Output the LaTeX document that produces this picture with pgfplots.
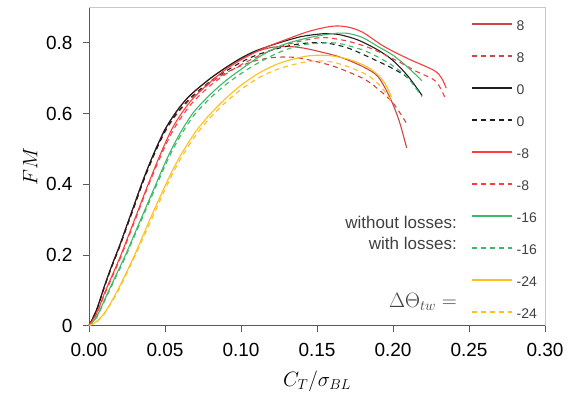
\documentclass[border=0pt]{standalone}
\usepackage{pgfplots}
\pgfplotsset{compat=1.18}
\usepackage{fontspec}
\setmainfont{Liberation Sans}
\definecolor{cEight}{RGB}{205,70,70}
\definecolor{cZero}{RGB}{30,30,30}
\definecolor{cMEight}{RGB}{255,60,60}
\definecolor{cSixteen}{RGB}{60,185,105}
\definecolor{cTwentyFour}{RGB}{255,192,30}
\definecolor{axdark}{RGB}{90,90,90}
\definecolor{axlight}{RGB}{200,200,200}
\definecolor{legtext}{RGB}{64,64,64}
\begin{document}
\begin{tikzpicture}[x=1pt,y=1pt]
\path[use as bounding box] (-89,-69.3) rectangle (486,325.7);
\begin{axis}[
  at={(0,0)}, anchor=south west,
  scale only axis, width=456pt, height=318.2pt,
  xmin=0, xmax=0.3, ymin=0, ymax=0.9,
  axis x line*=bottom, axis y line*=left,
  axis line style={axdark, line width=0.8pt},
  tick align=outside, major tick length=6pt,
  tick style={axdark, line width=0.8pt},
  xtick={0,0.05,0.1,0.15,0.2,0.25,0.3},
  ytick={0,0.2,0.4,0.6,0.8},
  /pgf/number format/assume math mode=true,
  ticklabel style={font=\fontsize{19}{19}\selectfont},
  xticklabel style={yshift=-8pt, /pgf/number format/.cd, fixed, fixed zerofill, precision=2},
  yticklabel style={xshift=-7pt, /pgf/number format/.cd, fixed, precision=1},
  xlabel={$C_T/\sigma_{BL}$}, ylabel={$FM$},
  every axis x label/.style={at={(axis description cs:0.5,0)}, anchor=center, yshift=-56pt, font=\fontsize{20}{20}\selectfont},
  every axis y label/.style={at={(axis description cs:-0.129,0.5)}, rotate=90, anchor=center, font=\fontsize{20}{20}\selectfont},
  clip=false,
  legend cell align=left,
  legend image code/.code={\draw[#1, line width=1.5pt] (0pt,1pt) -- (40pt,1pt);},
  legend style={at={(rel axis cs:0.831,0.967)}, anchor=north west, draw=none, fill=none,
    font=\fontsize{14}{14}\selectfont, text=legtext, row sep=22pt,
    nodes={inner sep=0pt, text height=10pt, text depth=0pt},
    /tikz/every odd column/.append style={column sep=4pt}},
  every axis plot/.append style={line width=1.1pt, smooth},
]
\draw[axlight, line width=0.8pt] (rel axis cs:0,1) -- (rel axis cs:1,1) -- (rel axis cs:1,0);
% 8 without losses
\addplot[cEight] coordinates {(0,0) (0.005,0.045) (0.01,0.11) (0.015,0.17) (0.02,0.225) (0.025,0.285) (0.03,0.345) (0.035,0.405) (0.04,0.46) (0.045,0.51) (0.05,0.555) (0.055,0.59) (0.06,0.62) (0.065,0.645) (0.07,0.665) (0.08,0.70) (0.09,0.73) (0.1,0.755) (0.11,0.775) (0.12,0.787) (0.13,0.79) (0.14,0.786) (0.15,0.777) (0.165,0.76) (0.18,0.733) (0.19,0.705) (0.198,0.645) (0.204,0.58) (0.209,0.503)};
\addlegendentry{8}
% 8 with losses
\addplot[cEight, dash pattern=on 5pt off 4pt] coordinates {(0,0) (0.005,0.044) (0.01,0.108) (0.015,0.167) (0.02,0.222) (0.025,0.281) (0.03,0.34) (0.035,0.4) (0.04,0.455) (0.045,0.505) (0.05,0.548) (0.055,0.582) (0.06,0.61) (0.065,0.633) (0.07,0.653) (0.08,0.687) (0.09,0.715) (0.1,0.735) (0.11,0.75) (0.12,0.758) (0.13,0.76) (0.14,0.756) (0.16,0.735) (0.18,0.70) (0.19,0.67) (0.2,0.63) (0.209,0.572)};
\addlegendentry{8}
% 0 without losses
\addplot[cZero] coordinates {(0,0) (0.005,0.045) (0.01,0.11) (0.015,0.17) (0.02,0.225) (0.025,0.285) (0.03,0.345) (0.035,0.405) (0.04,0.46) (0.045,0.51) (0.05,0.555) (0.055,0.59) (0.06,0.62) (0.065,0.645) (0.07,0.665) (0.08,0.70) (0.09,0.73) (0.1,0.757) (0.11,0.778) (0.125,0.80) (0.14,0.818) (0.155,0.826) (0.165,0.823) (0.177,0.808) (0.19,0.78) (0.2,0.75) (0.21,0.705) (0.219,0.652)};
\addlegendentry{0}
% 0 with losses
\addplot[cZero, dash pattern=on 5pt off 4pt] coordinates {(0,0) (0.005,0.044) (0.01,0.108) (0.015,0.167) (0.02,0.222) (0.025,0.281) (0.03,0.34) (0.035,0.4) (0.04,0.455) (0.045,0.505) (0.05,0.55) (0.055,0.585) (0.06,0.613) (0.065,0.637) (0.07,0.657) (0.08,0.692) (0.09,0.72) (0.1,0.745) (0.11,0.765) (0.125,0.785) (0.14,0.798) (0.155,0.80) (0.17,0.786) (0.185,0.758) (0.2,0.727) (0.21,0.70) (0.219,0.65)};
\addlegendentry{0}
% -8 without losses
\addplot[cMEight] coordinates {(0,0) (0.005,0.035) (0.01,0.09) (0.015,0.14) (0.021,0.2) (0.03,0.3) (0.038,0.39) (0.045,0.465) (0.05,0.515) (0.055,0.56) (0.06,0.595) (0.065,0.625) (0.07,0.65) (0.08,0.69) (0.09,0.725) (0.1,0.752) (0.115,0.785) (0.13,0.81) (0.145,0.833) (0.16,0.847) (0.17,0.845) (0.18,0.83) (0.194,0.79) (0.21,0.755) (0.227,0.722) (0.232,0.70) (0.235,0.672)};
\addlegendentry{-8}
% -8 with losses
\addplot[cMEight, dash pattern=on 5pt off 4pt] coordinates {(0,0) (0.005,0.033) (0.01,0.086) (0.015,0.135) (0.021,0.195) (0.03,0.295) (0.038,0.385) (0.045,0.458) (0.05,0.507) (0.055,0.55) (0.06,0.585) (0.065,0.615) (0.07,0.64) (0.08,0.68) (0.09,0.712) (0.1,0.738) (0.115,0.77) (0.13,0.795) (0.145,0.81) (0.155,0.815) (0.17,0.805) (0.185,0.785) (0.2,0.755) (0.216,0.718) (0.228,0.692) (0.234,0.647)};
\addlegendentry{-8}
% -16 without losses
\addplot[cSixteen] coordinates {(0,0) (0.005,0.025) (0.012,0.09) (0.018,0.145) (0.024,0.2) (0.034,0.3) (0.043,0.39) (0.05,0.46) (0.055,0.505) (0.06,0.545) (0.065,0.58) (0.07,0.61) (0.08,0.655) (0.09,0.693) (0.1,0.725) (0.11,0.755) (0.12,0.78) (0.13,0.798) (0.145,0.815) (0.16,0.826) (0.17,0.827) (0.18,0.815) (0.19,0.79) (0.2,0.765) (0.21,0.73) (0.219,0.693)};
\addlegendentry{-16}
% -16 with losses
\addplot[cSixteen, dash pattern=on 5pt off 4pt] coordinates {(0,0) (0.005,0.023) (0.012,0.086) (0.018,0.14) (0.024,0.195) (0.034,0.294) (0.043,0.383) (0.05,0.452) (0.055,0.497) (0.06,0.536) (0.065,0.57) (0.07,0.6) (0.08,0.645) (0.09,0.682) (0.1,0.713) (0.11,0.74) (0.125,0.773) (0.14,0.794) (0.155,0.80) (0.165,0.798) (0.18,0.78) (0.19,0.76) (0.2,0.735) (0.21,0.70) (0.219,0.648)};
\addlegendentry{-16}
% -24 without losses
\addplot[cTwentyFour] coordinates {(0,0) (0.005,0.012) (0.01,0.035) (0.015,0.07) (0.02,0.11) (0.03,0.2) (0.04,0.3) (0.05,0.395) (0.055,0.44) (0.06,0.48) (0.065,0.515) (0.07,0.548) (0.075,0.575) (0.08,0.6) (0.09,0.643) (0.1,0.68) (0.112,0.715) (0.125,0.742) (0.14,0.76) (0.15,0.765) (0.16,0.763) (0.172,0.752) (0.183,0.732) (0.19,0.71) (0.195,0.683) (0.199,0.647)};
\addlegendentry{-24}
% -24 with losses
\addplot[cTwentyFour, dash pattern=on 5pt off 4pt] coordinates {(0,0) (0.005,0.011) (0.01,0.033) (0.015,0.067) (0.02,0.105) (0.03,0.195) (0.04,0.29) (0.05,0.385) (0.055,0.43) (0.06,0.47) (0.065,0.505) (0.07,0.537) (0.075,0.565) (0.08,0.59) (0.09,0.632) (0.1,0.668) (0.112,0.702) (0.125,0.727) (0.14,0.744) (0.15,0.749) (0.161,0.745) (0.172,0.73) (0.183,0.709) (0.19,0.685) (0.195,0.66) (0.199,0.635)};
\addlegendentry{-24}
\node[anchor=east, font=\fontsize{17}{17}\selectfont, text=legtext, inner sep=0pt] at (axis cs:0.2421,0.2934) {without losses:};
\node[anchor=east, font=\fontsize{17}{17}\selectfont, text=legtext, inner sep=0pt] at (axis cs:0.2421,0.234) {with losses:};
\node[anchor=east, font=\fontsize{20}{20}\selectfont, text=legtext, inner sep=0pt] at (axis cs:0.2421,0.068) {$\Delta\Theta_{tw} =$};
\end{axis}
\end{tikzpicture}
\end{document}
